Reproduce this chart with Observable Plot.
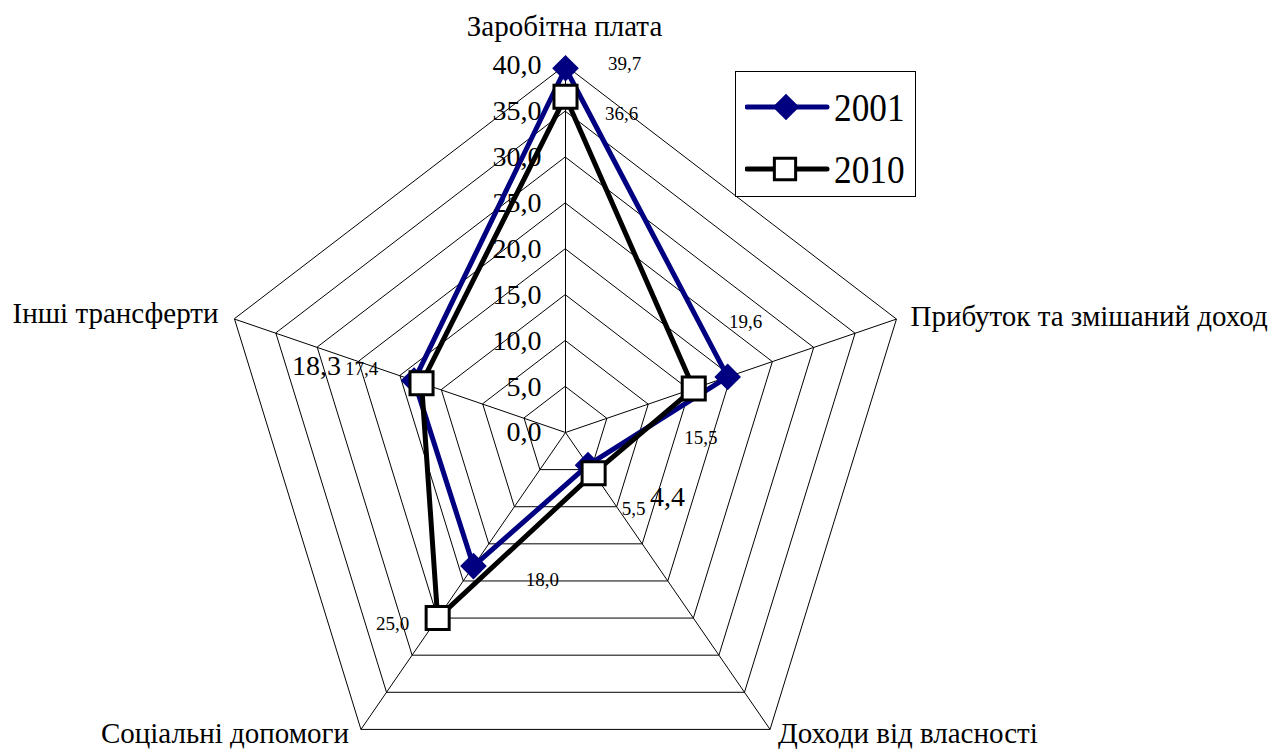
<!DOCTYPE html>
<html>
<head>
<meta charset="utf-8">
<script src="https://cdn.jsdelivr.net/npm/d3@7"></script>
<script src="https://cdn.jsdelivr.net/npm/@observablehq/plot@0.6"></script>
<style>
  html, body { margin: 0; padding: 0; background: #fff; font-family: "Liberation Serif", "Times New Roman", Times, "DejaVu Serif", serif; }
  #wrap { position: relative; width: 1288px; height: 749px; overflow: hidden; }
  #legend { position: absolute; left: 735px; top: 71px; width: 181px; height: 126px;
            border: 1.5px solid #000; background: #fff; box-sizing: border-box; }
  #legend .row { position: absolute; left: 0; width: 100%; height: 40px; }
  #legend svg { position: absolute; left: 9px; top: 0; }
  #legend .lab { position: absolute; left: 98px; top: -4px; font-family: "Liberation Serif", "Times New Roman", Times, "DejaVu Serif", serif;
                 font-size: 41px; line-height: 48px; transform: scaleX(0.86); transform-origin: left center; }
</style>
</head>
<body>
<div id="wrap">
  <div id="chart"></div>
  <div id="legend"></div>
</div>
<script>
// ---- data ----
const categories = ["Заробітна плата", "Прибуток та змішаний доход", "Доходи від власності", "Соціальні допомоги", "Інші трансферти"];
const seriesNames = ["2001", "2010"];
const values2001 = [39.7, 19.6, 4.4, 18.0, 18.3];
const values2010 = [36.6, 15.5, 5.5, 25.0, 17.4];
const gridLevels = [5, 10, 15, 20, 25, 30, 35, 40];
const tickValues = [0, 5, 10, 15, 20, 25, 30, 35, 40];
const axisMax = 40;

// ---- layout / style (not data) ----
const font = "'Liberation Serif', 'Times New Roman', Times, 'DejaVu Serif', serif";
const colors = { "2001": "#000080", "2010": "#000000" };
// label placement in pixels for each category, per series: [dx, dy, fontSize, anchor]
const labelOffsets2001 = [[59, -4, 19, "middle"], [18, -55, 19, "middle"], [62, 32, 28, "start"], [69, 14, 19, "middle"], [-73, -15, 28, "end"]];
const labelOffsets2010 = [[56, 17, 19, "middle"], [7, 49, 19, "middle"], [40, 36, 19, "middle"], [-45, 6, 19, "middle"], [-60, -14, 19, "middle"]];
const categoryOffsets = [[-1, -39, "middle"], [14, -2, "start"], [8, 4, "start"], [-12, 4, "end"], [-16, -5, "end"]];

const fmt = v => v.toFixed(1).replace(".", ",");
const ang = k => k * 2 * Math.PI / categories.length;
const px = (v, k) => v * Math.sin(ang(k));
const py = (v, k) => v * Math.cos(ang(k));

const ringData = gridLevels.flatMap(level => categories.map((c, k) => ({ level, x: px(level, k), y: py(level, k) })));
const spokes = categories.map((c, k) => ({ x1: 0, y1: 0, x2: px(axisMax, k), y2: py(axisMax, k) }));
const ticks = tickValues.map(v => ({ x: 0, y: v, label: fmt(v) }));
const pts = (vals, s) => vals.map((v, k) => ({ series: s, cat: categories[k], v, x: px(v, k), y: py(v, k) }));
const p2001 = pts(values2001, "2001");
const p2010 = pts(values2010, "2010");

const valueLabelMarks = (points, offsets) => points.map((p, k) =>
  Plot.text([p], { x: "x", y: "y", text: d => fmt(d.v), dx: offsets[k][0], dy: offsets[k][1],
    fontSize: offsets[k][2], textAnchor: offsets[k][3], fill: "black", fontFamily: font, ariaLabel: "value-label" }));

const catMarks = categories.map((c, k) =>
  Plot.text([{ x: px(axisMax, k), y: py(axisMax, k), c }], { x: "x", y: "y", text: "c",
    dx: categoryOffsets[k][0], dy: categoryOffsets[k][1], textAnchor: categoryOffsets[k][2],
    fontSize: 29, fill: "black", fontFamily: font }));

const chart = Plot.plot({
  width: 1288, height: 749, margin: 0,
  style: { background: "white", fontFamily: font, overflow: "visible" },
  x: { type: "linear", domain: [-axisMax, axisMax], range: [217, 913], axis: null },
  y: { type: "linear", domain: [-axisMax, axisMax], range: [799, 65], axis: null },
  marks: [
    Plot.line(ringData, { x: "x", y: "y", z: "level", curve: "linear-closed", stroke: "black", strokeWidth: 1 }),
    Plot.link(spokes, { x1: "x1", y1: "y1", x2: "x2", y2: "y2", stroke: "black", strokeWidth: 1 }),
    Plot.text(ticks, { x: "x", y: "y", text: "label", textAnchor: "end", dx: -24, dy: 0, fontSize: 28, fill: "black", fontFamily: font }),
    ...catMarks,
    Plot.line(p2001, { x: "x", y: "y", curve: "linear-closed", stroke: colors["2001"], strokeWidth: 5, strokeLinejoin: "miter" }),
    Plot.dot(p2001, { x: "x", y: "y", symbol: "diamond2", r: 12, fill: colors["2001"], stroke: "none" }),
    Plot.line(p2010, { x: "x", y: "y", curve: "linear-closed", stroke: colors["2010"], strokeWidth: 5, strokeLinejoin: "miter" }),
    Plot.dot(p2010, { x: "x", y: "y", symbol: "square", r: 13, fill: "white", stroke: "black", strokeWidth: 3 }),
    ...valueLabelMarks(p2001, labelOffsets2001),
    ...valueLabelMarks(p2010, labelOffsets2010)
  ]
});
document.getElementById("chart").appendChild(chart);

// white boxes behind value labels (Excel-style data label background)
d3.select(chart).selectAll('g[aria-label="value-label"] text').each(function () {
  const bb = this.getBBox();
  const r = document.createElementNS("http://www.w3.org/2000/svg", "rect");
  r.setAttribute("x", bb.x - 2);
  r.setAttribute("y", bb.y - 1);
  r.setAttribute("width", bb.width + 4);
  r.setAttribute("height", bb.height + 2);
  r.setAttribute("fill", "white");
  r.setAttribute("stroke", "none");
  const t = this.getAttribute("transform");
  if (t) r.setAttribute("transform", t);
  this.parentNode.insertBefore(r, this);
});

// legend
const legend = d3.select("#legend");
seriesNames.forEach((s, i) => {
  const row = legend.append("div").attr("class", "row").style("top", (i === 0 ? 15 : 77) + "px");
  const svg = row.append("svg").attr("width", 86).attr("height", 40);
  svg.append("line").attr("x1", 2).attr("x2", 82).attr("y1", 20).attr("y2", 20)
    .attr("stroke", colors[s]).attr("stroke-width", 5).attr("stroke-linecap", "round");
  if (s === "2001") {
    svg.append("path").attr("d", d3.symbol(d3.symbolDiamond2, Math.PI * 12 * 12)()).attr("transform", "translate(41,20)")
      .attr("fill", colors[s]);
  } else {
    svg.append("path").attr("d", d3.symbol(d3.symbolSquare, Math.PI * 12 * 12)()).attr("transform", "translate(40,20)")
      .attr("fill", "white").attr("stroke", "black").attr("stroke-width", 3);
  }
  row.append("div").attr("class", "lab").text(s);
});
</script>
</body>
</html>
